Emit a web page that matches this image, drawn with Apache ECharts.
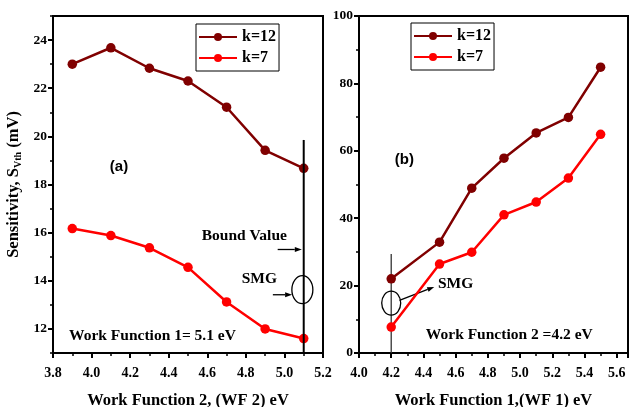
<!DOCTYPE html>
<html><head><meta charset="utf-8">
<script src="https://cdn.jsdelivr.net/npm/echarts@6/dist/echarts.min.js"></script>
<style>html,body{margin:0;padding:0;background:#fff}#c{width:630px;height:407px}</style>
</head><body><div id="c"></div>
<script>
// ---- data ----
const wf2 = [3.9, 4.1, 4.3, 4.5, 4.7, 4.9, 5.1];
const a_k12 = [23.0, 23.68, 22.83, 22.3, 21.21, 19.42, 18.67];
const a_k7 = [16.17, 15.88, 15.37, 14.56, 13.12, 12.0, 11.6];
const wf1 = [4.2, 4.5, 4.7, 4.9, 5.1, 5.3, 5.5];
const b_k12 = [22.0, 32.9, 48.9, 57.8, 65.3, 69.9, 84.8];
const b_k7 = [7.7, 26.4, 29.9, 41.0, 44.8, 51.9, 64.9];
const leftYTicks = [12, 14, 16, 18, 20, 22, 24];
const names = ['k=12', 'k=7'];
const colors = ['#800000', '#ff0000'];

const SERIF = '"Liberation Serif", "Times New Roman", serif';
const SANS = '"Liberation Sans", Arial, sans-serif';
const pair = (xs, ys) => xs.map((x, i) => [x, ys[i]]);

function arrow(p0, p1, color, lw, hl, hw) {
  const dx = p1[0] - p0[0], dy = p1[1] - p0[1];
  const L = Math.hypot(dx, dy), ux = dx / L, uy = dy / L;
  const b = [p1[0] - ux * hl, p1[1] - uy * hl];
  return [
    {type: 'line', shape: {x1: p0[0], y1: p0[1], x2: b[0], y2: b[1]}, style: {stroke: color, lineWidth: lw}},
    {type: 'polygon', shape: {points: [p1, [b[0] - uy * hw, b[1] + ux * hw], [b[0] + uy * hw, b[1] - ux * hw]]}, style: {fill: color}}
  ];
}
function txt(p, text, font) {
  return {type: 'text', x: p[0], y: p[1], style: {text: text, fill: '#000', font: font, align: 'center', verticalAlign: 'middle'}};
}

const axisBase = {
  axisLine: {show: true, onZero: false, lineStyle: {color: '#000', width: 2}},
  axisTick: {show: true, inside: false, length: 5, lineStyle: {color: '#000', width: 2}},
  minorTick: {show: true, splitNumber: 2, length: 3, lineStyle: {color: '#000', width: 1.5}},
  splitLine: {show: false},
  axisLabel: {color: '#000', fontFamily: SERIF, fontWeight: 'bold', fontSize: 14},
  nameTextStyle: {color: '#000', fontFamily: SERIF, fontWeight: 'bold', fontSize: 16.5}
};
function ax(o) {
  const r = JSON.parse(JSON.stringify(axisBase));
  for (const k in o) {
    if (typeof o[k] === 'object' && !Array.isArray(o[k]) && r[k]) Object.assign(r[k], o[k]);
    else r[k] = o[k];
  }
  return r;
}

function lineSeries(name, data, xi, color) {
  return {
    type: 'line', name: name, xAxisIndex: xi, yAxisIndex: xi, data: data,
    symbol: 'circle', symbolSize: 9.5, color: color,
    lineStyle: {color: color, width: 2.5}, itemStyle: {color: color},
    z: 3, animation: false
  };
}

const legendBase = {
  orient: 'vertical', data: names, borderColor: '#000', borderWidth: 1,
  padding: [5, 3, 5, 2], itemGap: 5, itemWidth: 38, itemHeight: 10,
  textStyle: {color: '#000', fontFamily: SERIF, fontWeight: 'bold', fontSize: 16},
  selectedMode: false
};

const option = {
  animation: false,
  backgroundColor: '#fff',
  grid: [
    {left: 53, top: 16, width: 270, height: 337, show: true, borderColor: '#000', borderWidth: 2,
     backgroundColor: 'transparent', containLabel: false, outerBoundsMode: 'none'},
    {left: 359, top: 16, width: 269, height: 337, show: true, borderColor: '#000', borderWidth: 2,
     backgroundColor: 'transparent', containLabel: false, outerBoundsMode: 'none'}
  ],
  legend: [
    Object.assign({left: 196, top: 24}, legendBase),
    Object.assign({left: 411, top: 23}, legendBase)
  ],
  xAxis: [
    ax({type: 'value', gridIndex: 0, min: 3.8, max: 5.2, interval: 0.2,
        axisLabel: {formatter: v => v.toFixed(1), margin: 13},
        name: 'Work Function 2, (WF 2) eV', nameLocation: 'middle', nameGap: 39}),
    ax({type: 'value', gridIndex: 1, min: 4.0, max: 5.67, interval: 0.2,
        axisLabel: {formatter: v => v.toFixed(1), margin: 13, showMaxLabel: false},
        name: 'Work Function 1,(WF 1) eV', nameLocation: 'middle', nameGap: 39})
  ],
  yAxis: [
    ax({type: 'value', gridIndex: 0, position: 'left', min: 11, max: 25, interval: 1,
        axisTick: {customValues: leftYTicks},
        axisLabel: {customValues: leftYTicks, fontSize: 13.5, margin: 6},
        minorTick: {show: false},
        name: '{a|Sensitivity, S}{s|Vth}{a| (mV)}', nameLocation: 'middle', nameGap: 30,
        nameTextStyle: {rich: {
          a: {fontFamily: SERIF, fontWeight: 'bold', fontSize: 16.5, color: '#000'},
          s: {fontFamily: SERIF, fontWeight: 'bold', fontSize: 10, color: '#000', padding: [8, 0, 0, 0]}
        }}}),
    ax({type: 'value', gridIndex: 1, position: 'left', min: 0, max: 100, interval: 20,
        axisLabel: {fontSize: 13.5, margin: 6}}),
    // minor ticks for the left y axis (odd values)
    ax({type: 'value', gridIndex: 0, position: 'left', offset: 0, min: 11, max: 25, interval: 1,
        axisLine: {show: false}, axisLabel: {show: false},
        axisTick: {length: 3, lineStyle: {width: 1.5}}, minorTick: {show: false}})
  ],
  series: [
    lineSeries(names[0], pair(wf2, a_k12), 0, colors[0]),
    lineSeries(names[1], pair(wf2, a_k7), 0, colors[1]),
    lineSeries(names[0], pair(wf1, b_k12), 1, colors[0]),
    lineSeries(names[1], pair(wf1, b_k7), 1, colors[1]),
    {
      type: 'custom', xAxisIndex: 0, yAxisIndex: 0, data: [[5.1, 15]], silent: true, z: 4, clip: false,
      renderItem: function (params, api) {
        const top = api.coord([5.1, 19.85]), bot = api.coord([5.1, 11]);
        const c = api.coord([5.093, 13.63]);
        return {type: 'group', children: [
          {type: 'line', shape: {x1: top[0], y1: top[1], x2: bot[0], y2: bot[1]}, style: {stroke: '#000', lineWidth: 2}},
          {type: 'ellipse', shape: {cx: c[0], cy: c[1], rx: 10.5, ry: 14}, style: {stroke: '#000', fill: null, lineWidth: 1.3}},
          ...arrow(api.coord([4.965, 15.3]), api.coord([5.09, 15.3]), '#000', 1.3, 7, 2.5),
          ...arrow(api.coord([4.94, 13.42]), api.coord([5.04, 13.42]), '#000', 1.3, 7, 2.5),
          txt(api.coord([4.792, 15.85]), 'Bound Value', 'bold 15.5px ' + SERIF),
          txt(api.coord([4.87, 14.09]), 'SMG', 'bold 15.5px ' + SERIF),
          txt(api.coord([4.316, 11.7]), 'Work Function 1= 5.1 eV', 'bold 15.5px ' + SERIF),
          txt(api.coord([4.142, 18.72]), '(a)', 'bold 15px ' + SANS)
        ]};
      }
    },
    {
      type: 'custom', xAxisIndex: 1, yAxisIndex: 1, data: [[4.2, 15]], silent: true, z: 2, clip: false,
      renderItem: function (params, api) {
        const top = api.coord([4.2, 29.4]), bot = api.coord([4.2, 0]);
        const c = api.coord([4.2, 14.8]);
        return {type: 'group', children: [
          {type: 'line', shape: {x1: top[0], y1: top[1], x2: bot[0], y2: bot[1]}, style: {stroke: '#333', lineWidth: 1.3}},
          {type: 'ellipse', shape: {cx: c[0], cy: c[1], rx: 9.5, ry: 12}, style: {stroke: '#000', fill: null, lineWidth: 1.3}},
          ...arrow(api.coord([4.251, 15.6]), api.coord([4.467, 19.6]), '#000', 1.3, 7, 2.5),
          txt(api.coord([4.60, 20.5]), 'SMG', 'bold 15.5px ' + SERIF),
          txt(api.coord([4.933, 5.4]), 'Work Function 2 =4.2 eV', 'bold 15.5px ' + SERIF),
          txt(api.coord([4.282, 57.3]), '(b)', 'bold 15px ' + SANS)
        ]};
      }
    }
  ]
};

const chart = echarts.init(document.getElementById('c'), null, {renderer: 'canvas'});
chart.setOption(option);
</script>
</body></html>
